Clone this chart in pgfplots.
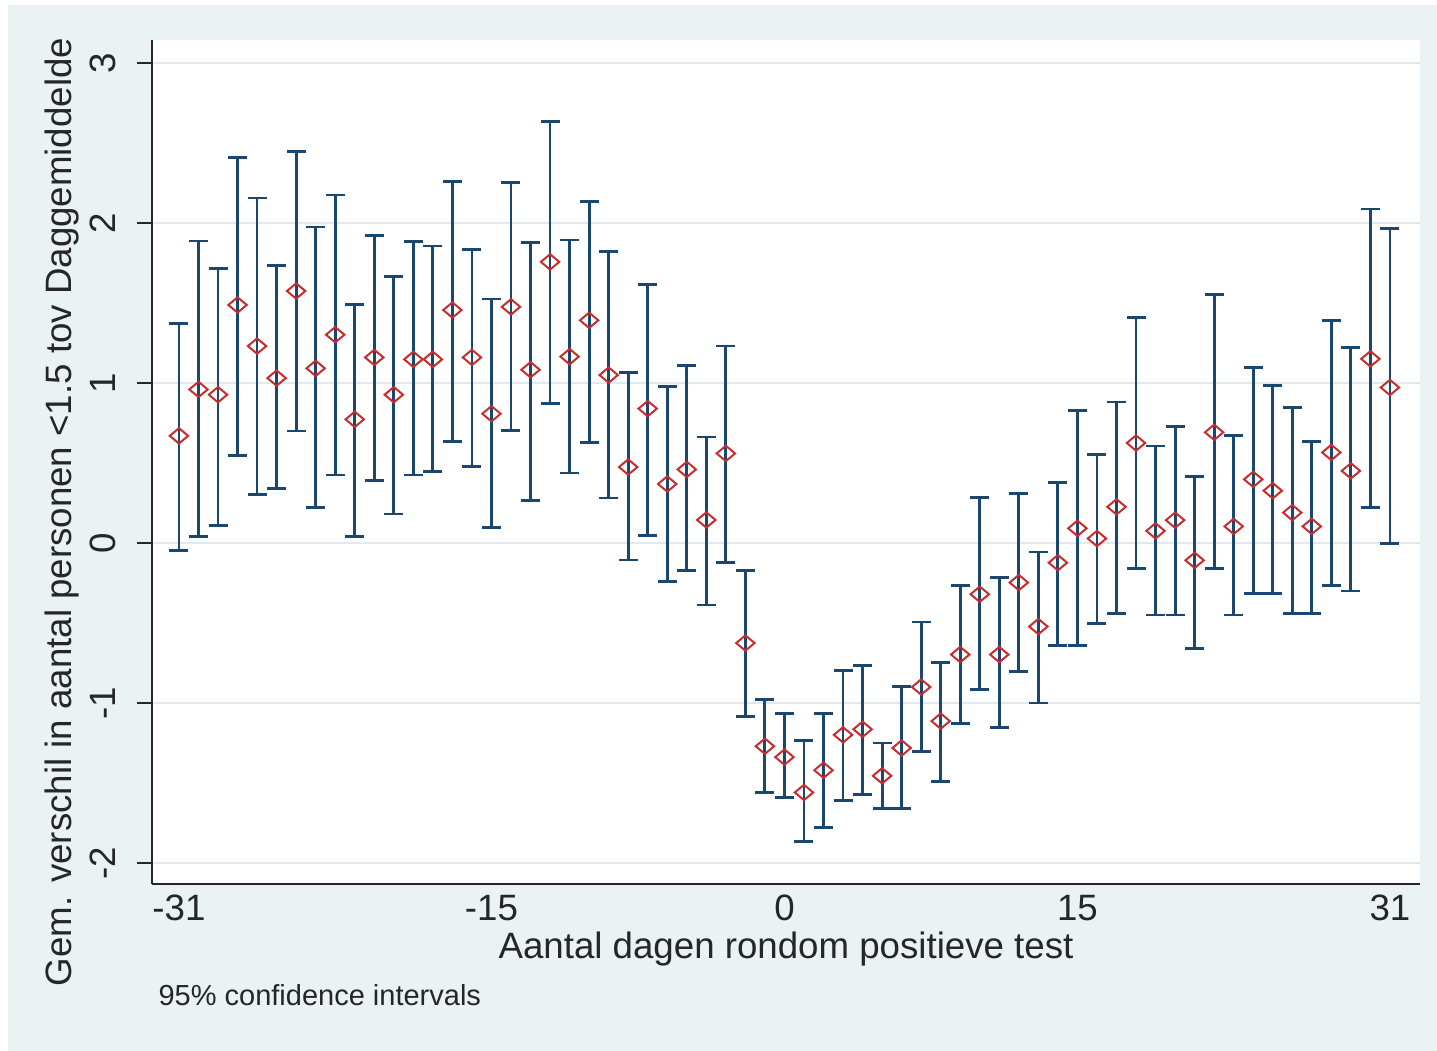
\documentclass[border=0pt]{standalone}
\usepackage{pgfplots}
\pgfplotsset{compat=1.18}
\usepackage{pgfplotstable}
\usepackage{fontspec}
\setmainfont{Liberation Sans}
\definecolor{stbg}{RGB}{234,242,243}
\definecolor{stnavy}{RGB}{26,71,111}
\definecolor{stred}{RGB}{200,45,45}
\definecolor{stgrid}{RGB}{222,234,238}

\pgfplotstableread{
x y lo hi
-31 0.670 -0.049 1.373
-30 0.960 0.040 1.888
-29 0.927 0.112 1.717
-28 1.488 0.546 2.410
-27 1.231 0.304 2.156
-26 1.031 0.340 1.735
-25 1.575 0.700 2.446
-24 1.092 0.221 1.975
-23 1.302 0.425 2.175
-22 0.773 0.040 1.490
-21 1.160 0.390 1.923
-20 0.927 0.181 1.665
-19 1.148 0.425 1.885
-18 1.148 0.446 1.856
-17 1.456 0.633 2.260
-16 1.160 0.477 1.835
-15 0.808 0.095 1.525
-14 1.476 0.703 2.254
-13 1.083 0.265 1.878
-12 1.757 0.873 2.634
-11 1.165 0.438 1.894
-10 1.392 0.630 2.133
-9 1.050 0.281 1.823
-8 0.475 -0.106 1.065
-7 0.840 0.049 1.618
-6 0.369 -0.243 0.977
-5 0.460 -0.172 1.112
-4 0.144 -0.387 0.663
-3 0.560 -0.120 1.231
-2 -0.625 -1.082 -0.170
-1 -1.270 -1.557 -0.980
0 -1.338 -1.590 -1.066
1 -1.559 -1.865 -1.236
2 -1.420 -1.779 -1.066
3 -1.199 -1.609 -0.795
4 -1.164 -1.574 -0.764
5 -1.455 -1.660 -1.250
6 -1.281 -1.660 -0.898
7 -0.900 -1.301 -0.494
8 -1.113 -1.488 -0.748
9 -0.697 -1.129 -0.268
10 -0.320 -0.918 0.285
11 -0.697 -1.155 -0.216
12 -0.247 -0.802 0.310
13 -0.522 -1.000 -0.056
14 -0.123 -0.642 0.379
15 0.092 -0.642 0.829
16 0.028 -0.505 0.554
17 0.226 -0.438 0.881
18 0.625 -0.159 1.410
19 0.076 -0.450 0.606
20 0.143 -0.450 0.726
21 -0.108 -0.661 0.415
22 0.692 -0.159 1.553
23 0.104 -0.450 0.673
24 0.398 -0.314 1.099
25 0.327 -0.314 0.984
26 0.190 -0.438 0.845
27 0.104 -0.438 0.637
28 0.566 -0.264 1.390
29 0.451 -0.300 1.223
30 1.151 0.224 2.088
31 0.972 -0.003 1.964
}\datatab

\begin{document}
\begin{tikzpicture}
\fill[white] (0pt,0pt) rectangle (431.1pt,315.3pt);
\fill[stbg] (2.4pt,0pt) rectangle (431.1pt,313.8pt);
\begin{axis}[
  at={(45.6pt,50.1pt)}, anchor=south west,
  scale only axis, width=380.4pt, height=253.2pt,
  xmin=-32.38, xmax=32.54, ymin=-2.131, ymax=3.144,
  axis background/.style={fill=white},
  axis lines*=left,
  axis line style={black!85, line width=0.6pt},
  xtick={-31,-15,0,15,31}, xticklabels={-31,-15,0,15,31},
  ytick={-2,-1,0,1,2,3}, yticklabels={-2,-1,0,1,2,3},
  tick align=outside,
  major tick length=4.5pt,
  xtick style={draw=none},
  ytick style={black!85, line width=0.6pt},
  ymajorgrids, grid style={stgrid, line width=0.6pt},
  xticklabel style={anchor=base, inner sep=0pt, yshift=-6.6pt, font=\fontsize{11}{13}\selectfont, text=black!85},
  yticklabel style={xshift=-6.3pt, rotate=90, anchor=base, inner sep=0pt, font=\fontsize{11}{13}\selectfont, text=black!85},
  xlabel={Aantal dagen rondom positieve test},
  xlabel style={at={(axis description cs:0.5,-0.0877)}, anchor=base, inner sep=0pt, font=\fontsize{11}{13}\selectfont, text=black!85},
  ylabel={Gem. verschil in aantal personen <1.5 tov Daggemiddelde},
  ylabel style={at={(axis description cs:-0.0631,0.4408)}, anchor=base, inner sep=0pt, font=\fontsize{11}{13}\selectfont, text=black!85},
  clip=false,
]
\addplot[only marks, mark=diamond, mark size=2.3pt, mark options={xscale=1.6, draw=stred, line width=0.6pt, fill=none}] table[x=x,y=y]{\datatab};
\addplot[draw=none, mark=none, error bars/.cd, y dir=both, y explicit,
  error bar style={draw=stnavy, line width=0.85pt},
  error mark options={rotate=90, draw=stnavy, line width=0.85pt, mark size=2.85pt}]
  table[x=x, y=y, y error plus expr=\thisrow{hi}-\thisrow{y}, y error minus expr=\thisrow{y}-\thisrow{lo}]{\datatab};
\node[anchor=base west, inner sep=0pt, font=\fontsize{8.7}{10}\selectfont, text=black!85] at (axis description cs:0.0047,-0.1434) {95\% confidence intervals};
\end{axis}
\end{tikzpicture}
\end{document}
